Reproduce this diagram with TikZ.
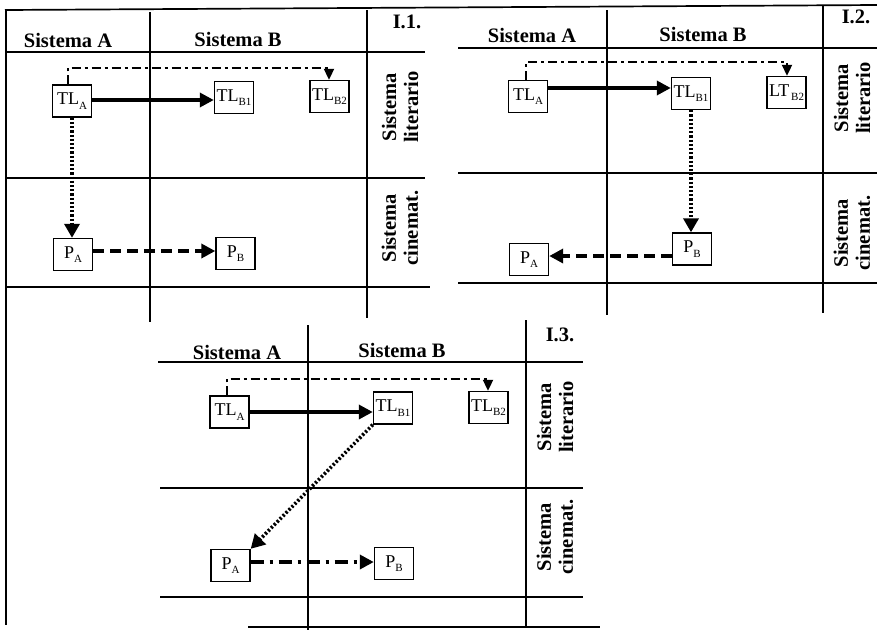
\documentclass[tikz,border=0pt]{standalone}
\usepackage{fontspec}
\setmainfont{Liberation Serif}
\usetikzlibrary{arrows.meta}
\newcommand\tlab[2]{#1\raisebox{-4.5pt}{\fontsize{11}{11}\selectfont #2}}
\begin{document}
\begin{tikzpicture}[x=1pt,y=-1pt,
  gridline/.style={line width=1.7pt},
  hdr/.style={font=\fontsize{20.5}{20}\selectfont\bfseries, inner sep=0},
  side/.style={font=\fontsize{20.5}{22}\selectfont\bfseries, rotate=90, align=center, inner sep=0},
  tbox/.style={draw, line width=1.4pt, minimum width=39pt, minimum height=32pt, inner sep=0, font=\fontsize{18}{18}\selectfont},
  solidarr/.style={line width=3.4pt, -{Triangle[length=14pt,width=14pt]}},
  dotarr/.style={line width=3.6pt, dash pattern=on 2.2pt off 2pt, -{Triangle[length=14pt,width=15pt]}},
  dasharr/.style={line width=3.6pt, dash pattern=on 11pt off 6pt, -{Triangle[length=14pt,width=14pt]}},
  dotdash/.style={line width=2pt, dash pattern=on 9pt off 4pt on 3pt off 4pt, -{Triangle[length=11pt,width=10pt]}},
  thickdotdash/.style={line width=3.6pt, dash pattern=on 13pt off 6pt on 3pt off 6pt, -{Triangle[length=14pt,width=14pt]}},
]
\useasboundingbox (0,0) rectangle (877,630);

% ---------- grid lines ----------
\draw[gridline] (5,10) -- (877,5);
% I.1
\draw[gridline] (6,10) -- (6,625);
\draw[gridline] (150,12) -- (150,322);
\draw[gridline] (367,10) -- (367,318);
\draw[gridline] (5,52) -- (425,52);
\draw[gridline] (5,178) -- (425,178);
\draw[gridline] (5,287) -- (430,287);
% I.2
\draw[gridline] (607,10) -- (607,315);
\draw[gridline] (823,5) -- (823,313);
\draw[gridline] (458,48) -- (877,48);
\draw[gridline] (458,173) -- (877,173);
\draw[gridline] (458,283) -- (877,283);
% I.3
\draw[gridline] (308,325) -- (308,630);
\draw[gridline] (526,320) -- (526,627);
\draw[gridline] (158,362) -- (583,362);
\draw[gridline] (160,488) -- (583,488);
\draw[gridline] (160,597) -- (583,597);
\draw[gridline] (248,627) -- (600,627);

% ---------- I.1 ----------
\node[hdr] (h1a) at (68,40) {Sistema A};
\node[hdr] (h1b) at (238,39) {Sistema B};
\node[hdr] (t1) at (407,22) {I.1.};
\node[side] (s1l) at (400,107) {Sistema\\literario};
\node[side] (s1c) at (400,228) {Sistema\\cinemat.};
\node[tbox] (A1) at (72,101) {\tlab{TL}{A}};
\node[tbox] (B11) at (234,97.5) {\tlab{TL}{B1}};
\node[tbox] (B21) at (329.5,96.5) {\tlab{TL}{B2}};
\node[tbox] (PA1) at (73,254.5) {\tlab{P}{A}};
\node[tbox] (PB1) at (235.5,253.5) {\tlab{P}{B}};
\coordinate (k1a) at (68,68);
\coordinate (k1b) at (329,68);
\coordinate (y1) at (0,100);
\coordinate (y1p) at (0,251);
\draw[solidarr] (A1.east |- y1) -- (B11.west |- y1);
\draw[dotdash] (A1.north -| k1a) -- (k1a) -- (k1b) -- (B21.north -| k1b);
\draw[dotarr] (A1.south) -- (PA1.north -| A1.south);
\draw[dasharr] (PA1.east |- y1p) -- (PB1.west |- y1p);

% ---------- I.2 ----------
\node[hdr] (h2a) at (532,35) {Sistema A};
\node[hdr] (h2b) at (703,34) {Sistema B};
\node[hdr] (t2) at (856,17) {I.2.};
\node[side] (s2l) at (852,98) {Sistema\\literario};
\node[side] (s2c) at (852,233) {Sistema\\cinemat.};
\node[tbox] (A2) at (528,96.5) {\tlab{TL}{A}};
\node[tbox] (B12) at (691,93.5) {\tlab{TL}{B1}};
\node[tbox] (B22) at (786.5,92.5) {\tlab{LT}{\,B2}};
\node[tbox] (PA2) at (529,259.5) {\tlab{P}{A}};
\node[tbox] (PB2) at (692,249) {\tlab{P}{B}};
\coordinate (k2a) at (526,62);
\coordinate (k2b) at (787,62);
\coordinate (y2) at (0,88);
\coordinate (y2p) at (0,256);
\draw[solidarr] (A2.east |- y2) -- (B12.west |- y2);
\draw[dotdash] (A2.north -| k2a) -- (k2a) -- (k2b) -- (B22.north -| k2b);
\draw[dotarr] (B12.south) -- (PB2.north -| B12.south);
\draw[dasharr] (PB2.west |- y2p) -- (PA2.east |- y2p);

% ---------- I.3 ----------
\node[hdr] (h3a) at (237,352) {Sistema A};
\node[hdr] (h3b) at (402,350) {Sistema B};
\node[hdr] (t3) at (560,335) {I.3.};
\node[side] (s3l) at (555,417) {Sistema\\literario};
\node[side] (s3c) at (555,537) {Sistema\\cinemat.};
\node[tbox] (A3) at (229.5,412) {\tlab{TL}{A}};
\node[tbox] (B13) at (393,408) {\tlab{TL}{B1}};
\node[tbox] (B23) at (488.5,407.5) {\tlab{TL}{B2}};
\node[tbox] (PA3) at (230.5,565.5) {\tlab{P}{A}};
\node[tbox] (PB3) at (394,563.5) {\tlab{P}{B}};
\coordinate (k3a) at (227,379);
\coordinate (k3b) at (488,379);
\coordinate (y3) at (0,412);
\coordinate (y3p) at (0,562);
\draw[solidarr] (A3.east |- y3) -- (B13.west |- y3);
\draw[dotdash] (A3.north -| k3a) -- (k3a) -- (k3b) -- (B23.north -| k3b);
\draw[dotarr] (B13.south west) -- (PA3.north east);
\draw[thickdotdash] (PA3.east |- y3p) -- (PB3.west |- y3p);
\end{tikzpicture}
\end{document}
